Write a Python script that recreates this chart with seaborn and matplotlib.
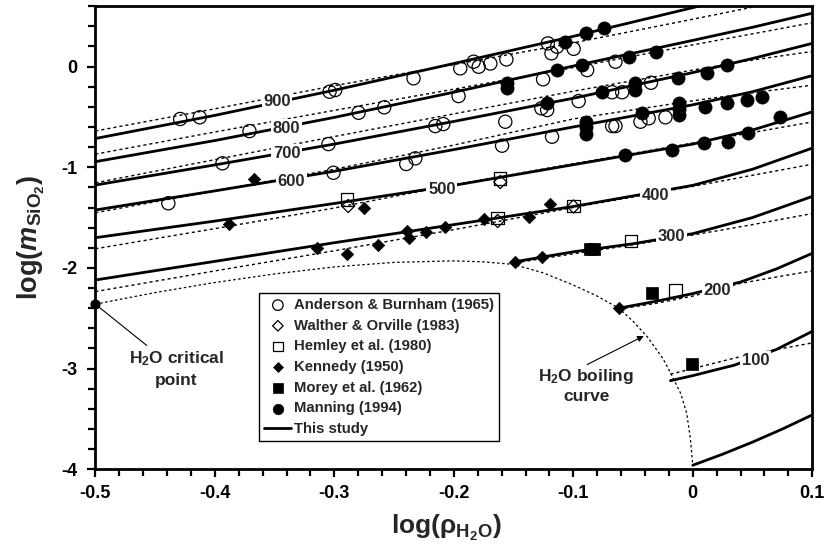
import matplotlib
matplotlib.use("Agg")
import matplotlib.pyplot as plt
from matplotlib.ticker import MultipleLocator
import seaborn as sns
import pandas as pd

# ---------------- data ----------------
# common x grid for the high-temperature isotherms (log rho_H2O)
grid_x = [-0.5, -0.4, -0.3, -0.2, -0.1, 0.0, 0.05, 0.1]

# "This study" isotherms (solid)
study_900 = [-0.715, -0.485, -0.235, 0.03, 0.30, 0.585, 0.735, 0.885]
study_800 = [-0.945, -0.735, -0.505, -0.255, 0.005, 0.26, 0.39, 0.53]
study_700 = [-1.177, -0.977, -0.77, -0.545, -0.315, -0.06, 0.08, 0.23]
study_600 = [-1.425, -1.235, -1.04, -0.825, -0.60, -0.38, -0.25, -0.09]
study_500 = [-1.70, -1.535, -1.36, -1.18, -0.975, -0.77, -0.63, -0.45]
study_400 = [-2.12, -1.935, -1.75, -1.57, -1.39, -1.18, -1.02, -0.81]

# previous model isotherms (dotted)
prev_900 = [-0.64, -0.42, -0.19, 0.02, 0.235, 0.47, 0.59, 0.71]
prev_800 = [-0.87, -0.65, -0.435, -0.225, -0.01, 0.215, 0.325, 0.435]
prev_700 = [-1.155, -0.925, -0.695, -0.47, -0.245, -0.035, 0.065, 0.15]
prev_600 = [-1.452, -1.235, -1.02, -0.78, -0.52, -0.34, -0.26, -0.185]
prev_500 = [-1.81, -1.61, -1.405, -1.175, -0.965, -0.76, -0.655, -0.55]
prev_400 = [-2.235, -2.03, -1.83, -1.62, -1.40, -1.19, -1.08, -0.97]

# low-temperature isotherms (start on the boiling curve)
x_300 = [-0.1485, -0.1, -0.05, 0.0, 0.05, 0.1]
study_300 = [-1.938, -1.84, -1.76, -1.66, -1.50, -1.29]
prev_300 = [-1.95, -1.86, -1.77, -1.673, -1.57, -1.46]
x_200 = [-0.062, -0.03, 0.0, 0.04, 0.07, 0.1]
study_200 = [-2.40, -2.33, -2.255, -2.14, -2.01, -1.855]
prev_200 = [-2.41, -2.35, -2.28, -2.153, -2.09, -2.03]
x_100 = [-0.0187, 0.0, 0.035, 0.07, 0.1]
study_100 = [-3.12, -3.07, -2.965, -2.81, -2.63]
prev_100 = [-3.055, -3.0, -2.895, -2.81, -2.745]
x_low = [0.0, 0.025, 0.05, 0.075, 0.1]
study_low = [-3.96, -3.85, -3.73, -3.60, -3.46]

# H2O boiling curve
boil_x = [-0.5, -0.45, -0.4, -0.35, -0.3, -0.25, -0.2, -0.175, -0.15, -0.125, -0.1,
          -0.08, -0.062, -0.05, -0.038, -0.025, -0.0187, -0.01, -0.005, -0.002, 0.0]
boil_y = [-2.36, -2.245, -2.145, -2.06, -1.99, -1.945, -1.93, -1.94, -1.965, -2.05, -2.17,
          -2.28, -2.40, -2.53, -2.685, -2.9, -3.04, -3.25, -3.45, -3.7, -3.96]

# isotherm labels
iso_labels = ["900", "800", "700", "600", "500", "400", "300", "200", "100"]
iso_label_x = [-0.348, -0.340, -0.340, -0.336, -0.210, -0.031, -0.018, 0.0205, 0.0525]
iso_label_y = [-0.35, -0.614, -0.862, -1.144, -1.226, -1.276, -1.69, -2.226, -2.92]

# experimental data
ab_x = [-0.429, -0.4126, -0.371, -0.3936, -0.4389, -0.304, -0.2992, -0.2797, -0.2582,
        -0.2337, -0.1946, -0.1834, -0.1792, -0.1694, -0.156, -0.1213, -0.1183, -0.1136,
        -0.0997, -0.196, -0.1253, -0.0884, -0.0647, -0.2155, -0.2088, -0.1569, -0.1267,
        -0.1219, -0.0955, -0.0675, -0.0591, -0.035, -0.3049, -0.3007, -0.2398, -0.2322,
        -0.1596, -0.1178, -0.0675, -0.0647, -0.0438, -0.0369, -0.0229]
ab_y = [-0.521, -0.504, -0.641, -0.961, -1.358, -0.250, -0.233, -0.459, -0.405,
        -0.117, -0.018, 0.048, -0.002, 0.030, 0.071, 0.230, 0.131, 0.197,
        0.176, -0.293, -0.127, -0.035, 0.048, -0.591, -0.571, -0.548, -0.415,
        -0.432, -0.343, -0.255, -0.255, -0.161, -0.770, -1.055, -0.968, -0.912,
        -0.786, -0.697, -0.591, -0.591, -0.548, -0.514, -0.504]

wo_x = [-0.2884, -0.1611, -0.1633, -0.0999]
wo_y = [-1.385, -1.147, -1.534, -1.390]

hem_x = [-0.2892, -0.1611, -0.1633, -0.0999, -0.0516, -0.0145]
hem_y = [-1.321, -1.112, -1.504, -1.385, -1.733, -2.226]

ken_x = [-0.3671, -0.2755, -0.3878, -0.3146, -0.2894, -0.2638, -0.2392, -0.2379, -0.2230,
         -0.2075, -0.1745, -0.1374, -0.1198, -0.1485, -0.1261, -0.0620]
ken_y = [-1.117, -1.405, -1.564, -1.805, -1.862, -1.770, -1.636, -1.706, -1.641,
         -1.589, -1.517, -1.498, -1.365, -1.938, -1.889, -2.401]

mor_x = [-0.0857, -0.0827, -0.0340, -0.0005]
mor_y = [-1.815, -1.815, -2.252, -2.954]

man_x = [-0.1066, -0.0893, -0.0745, -0.1554, -0.1554, -0.1133, -0.0924, -0.0536, -0.0312,
         -0.1219, -0.0759, -0.0480, -0.0480, -0.0126, 0.0121, 0.0288,
         -0.0890, -0.0890, -0.0890, -0.0424, -0.0117, -0.0117, -0.0117, 0.0106, 0.0288,
         0.0454, 0.0581, 0.0730, -0.0564, -0.0178, 0.0090, 0.0296, 0.0462]
man_y = [0.246, 0.330, 0.379, -0.167, -0.217, -0.035, 0.015, 0.091, 0.147,
         -0.365, -0.250, -0.167, -0.233, -0.117, -0.068, 0.020,
         -0.551, -0.601, -0.670, -0.465, -0.365, -0.422, -0.477, -0.399, -0.365,
         -0.333, -0.303, -0.498, -0.879, -0.829, -0.763, -0.747, -0.663]

crit_x = [-0.5]
crit_y = [-2.36]

x_ticks = [-0.5, -0.4, -0.3, -0.2, -0.1, 0.0, 0.1]
x_tick_labels = ["-0.5", "-0.4", "-0.3", "-0.2", "-0.1", "0", "0.1"]
y_ticks = [-4, -3, -2, -1, 0]
y_tick_labels = ["-4", "-3", "-2", "-1", "0"]

# ---------------- style ----------------
sns.set_theme(style="ticks")
plt.rcParams["font.family"] = ["Liberation Sans", "DejaVu Sans"]
plt.rcParams["font.weight"] = "bold"
plt.rcParams["axes.unicode_minus"] = False
plt.rcParams["mathtext.fontset"] = "custom"
plt.rcParams["mathtext.rm"] = "Liberation Sans:bold"
plt.rcParams["mathtext.it"] = "Liberation Sans:bold:italic"
plt.rcParams["mathtext.bf"] = "Liberation Sans:bold"
plt.rcParams["mathtext.sf"] = "Liberation Sans"

fig = plt.figure(figsize=(8.26, 5.53), dpi=100)
ax = fig.add_axes([0.1154, 0.1514, 0.8680, 0.8375])

solid_kw = dict(color="black", linewidth=2.0, estimator=None, sort=False, ax=ax, zorder=2)
dot_kw = dict(color="black", linewidth=1.0, estimator=None, sort=False, ax=ax, zorder=2,
              dashes=False)

# dotted (previous model)
for ys in [prev_900, prev_800, prev_700, prev_600, prev_500, prev_400]:
    sns.lineplot(x=grid_x, y=ys, **dot_kw)
for xs, ys in [(x_300, prev_300), (x_200, prev_200), (x_100, prev_100)]:
    sns.lineplot(x=xs, y=ys, **dot_kw)
for line in ax.lines:
    line.set_linestyle((0, (2.2, 2.2)))

# boiling curve
sns.lineplot(x=boil_x, y=boil_y, **dot_kw)
ax.lines[-1].set_linestyle((0, (2.0, 2.0)))
ax.lines[-1].set_linewidth(0.9)

# solid (this study)
first = True
for ys in [study_900, study_800, study_700, study_600, study_500, study_400]:
    sns.lineplot(x=grid_x, y=ys, label="This study" if first else None, legend=False, **solid_kw)
    first = False
for xs, ys in [(x_300, study_300), (x_200, study_200), (x_100, study_100), (x_low, study_low)]:
    sns.lineplot(x=xs, y=ys, legend=False, **solid_kw)

# isotherm labels (white box cuts the lines)
for t, tx, ty in zip(iso_labels, iso_label_x, iso_label_y):
    ax.text(tx, ty, t, ha="center", va="center", fontsize=12, fontweight="bold",
            bbox=dict(facecolor="white", edgecolor="none", pad=1.2), zorder=3)

# points
sc_kw = dict(ax=ax, zorder=5, legend=False)
sns.scatterplot(x=ab_x, y=ab_y, marker="o", s=90, facecolor="none", edgecolor="black",
                linewidth=0.9, label="Anderson & Burnham (1965)", **sc_kw)
sns.scatterplot(x=wo_x, y=wo_y, marker="D", s=45, facecolor="none", edgecolor="black",
                linewidth=0.9, label="Walther & Orville (1983)", **sc_kw)
sns.scatterplot(x=hem_x, y=hem_y, marker="s", s=80, facecolor="none", edgecolor="black",
                linewidth=0.9, label="Hemley et al. (1980)", **sc_kw)
sns.scatterplot(x=ken_x, y=ken_y, marker="D", s=40, color="black", edgecolor="black",
                linewidth=0.5, label="Kennedy (1950)", **sc_kw)
sns.scatterplot(x=mor_x, y=mor_y, marker="s", s=80, color="black", edgecolor="black",
                linewidth=0.5, label="Morey et al. (1962)", **sc_kw)
sns.scatterplot(x=man_x, y=man_y, marker="o", s=90, color="black", edgecolor="black",
                linewidth=0.5, label="Manning (1994)", **sc_kw)
ax.scatter(crit_x, crit_y, s=40, color="black", zorder=6, clip_on=False)

# annotations
ax.plot([-0.5, -0.457], [-2.36, -2.77], color="black", linewidth=0.8, zorder=2)
ax.text(-0.432, -3.0, "H$_2$O critical\npoint", ha="center", va="center", fontsize=12.5,
        fontweight="bold", linespacing=1.35)
ax.annotate("", xy=(-0.041, -2.676), xytext=(-0.0884, -2.96),
            arrowprops=dict(arrowstyle="-|>", color="black", lw=0.8, mutation_scale=9,
                            shrinkA=0, shrinkB=0))
ax.text(-0.089, -3.17, "H$_2$O boiling\ncurve", ha="center", va="center", fontsize=12.5,
        fontweight="bold", linespacing=1.25)

# axes
ax.set_xlim(-0.5, 0.1)
ax.set_ylim(-4, 0.6)
ax.set_xticks(x_ticks)
ax.set_xticklabels(x_tick_labels)
ax.set_yticks(y_ticks)
ax.set_yticklabels(y_tick_labels)
ax.xaxis.set_minor_locator(MultipleLocator(0.02))
ax.yaxis.set_minor_locator(MultipleLocator(0.2))
ax.tick_params(which="major", direction="out", length=6, width=1.6, labelsize=13,
               color="black", labelcolor="black")
ax.tick_params(axis="x", which="major", pad=5)
ax.tick_params(axis="y", which="major", pad=7)
ax.tick_params(which="minor", direction="out", length=5, width=1.6, color="black")
for lab in ax.get_xticklabels() + ax.get_yticklabels():
    lab.set_fontweight("bold")
for sp in ax.spines.values():
    sp.set_visible(True)
    sp.set_linewidth(2.0)
    sp.set_color("black")

ax.set_xlabel("log(ρ$_{\\mathsf{H_2O}}$)", fontsize=19, fontweight="bold")
ax.set_ylabel("log($\\mathit{m}$$_{\\mathsf{SiO_2}}$)", fontsize=19.5, fontweight="bold")
ax.xaxis.set_label_coords(0.49, -0.095)
ax.yaxis.set_label_coords(-0.068, 0.5)

# legend
h, lbl = ax.get_legend_handles_labels()
order = ["Anderson & Burnham (1965)", "Walther & Orville (1983)", "Hemley et al. (1980)",
         "Kennedy (1950)", "Morey et al. (1962)", "Manning (1994)", "This study"]
hd = dict(zip(lbl, h))
leg = ax.legend([hd[o] for o in order], order, loc="upper left",
                bbox_to_anchor=(0.2287, 0.381), borderaxespad=0, frameon=True,
                fancybox=False, edgecolor="black", framealpha=1, fontsize=10.7,
                handlelength=1.8, handletextpad=0.2, labelspacing=0.45, borderpad=0.35,
                markerscale=0.8)
leg.get_frame().set_linewidth(1.0)
for t in leg.get_texts():
    t.set_fontweight("bold")
leg.set_zorder(7)

fig.savefig("out.png", dpi=100)
